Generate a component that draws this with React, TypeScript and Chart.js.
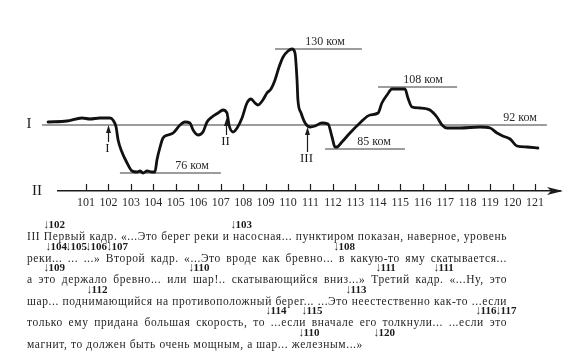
import { useEffect, useRef } from 'react';
import { Chart, registerables } from 'chart.js';

Chart.register(...registerables);

// ---- data ----
// x: frame numbers (scale II); y: pen deflection from the base level I (arbitrary units, up = higher resistance)
const TICKS = [101, 102, 103, 104, 105, 106, 107, 108, 109, 110, 111, 112, 113, 114, 115, 116, 117, 118, 119, 120, 121];

const CURVE_X = [
  99.31, 100.15, 100.82, 101.18, 101.62, 102.07, 102.2, 102.34, 102.43, 102.6, 102.83, 103.05, 103.27, 103.41, 103.54,
  103.72, 103.94, 104.07, 104.16, 104.3, 104.43, 104.65, 104.88, 105.19, 105.41, 105.63, 105.77, 105.99, 106.21, 106.39,
  106.61, 106.88, 107.1, 107.28, 107.37, 107.55, 107.73, 107.95, 108.17, 108.35, 108.53, 108.66, 108.88, 109.06, 109.24,
  109.42, 109.6, 109.78, 110.0, 110.18, 110.31, 110.4, 110.44, 110.58, 110.76, 110.98, 111.2, 111.51, 111.78, 111.96,
  112.09, 112.18, 112.4, 112.76, 113.2, 113.65, 114.01, 114.18, 114.41, 114.63, 114.9, 115.21, 115.34, 115.52, 115.88,
  116.32, 116.63, 116.86, 117.08, 117.66, 118.55, 119.0, 119.31, 119.57, 119.89, 120.2, 120.64, 121.13,
];
const CURVE_Y = [
  3, 4, 7, 6, 7, 7, 5, -2, -15, -27, -38, -46, -47, -46, -48,
  -46, -47, -47, -35, -22, -13, -10, -8, 0, 3, 2, -5, -10, -7, 3,
  8, 12, 15, 12, 0, -7, -3, 7, 22, 26, 22, 20, 25, 32, 36,
  45, 58, 68, 74, 76, 72, 45, 25, 12, 2, -2, -1, 2, 1, -12,
  -22, -22, -17, -8, 2, 10, 12, 22, 30, 36, 36, 36, 27, 18, 17,
  15, 8, 0, -3, -3, -2, -3, -8, -11, -14, -21, -22, -23,
];

// resistance levels
const LEVEL_LABELS = ['130 ком', '108 ком', '92 ком', '85 ком', '76 ком'];
const LEVEL_Y = [76, 38, 0, -24, -48];
const LEVEL_X0 = [109.42, 114.01, 99.04, 111.65, 102.51];
const LEVEL_X1 = [113.29, 117.53, 121.53, 115.21, 107.01];
const LEVEL_LABEL_X = [111.65, 116.01, 120.33, 113.83, 105.72];

// event arrows I, II, III
const EVENT_LABELS = ['I', 'II', 'III'];
const EVENT_X = [101.98, 107.24, 110.84];
const EVENT_TIP = [0, 7, -2];
const EVENT_TAIL = [-17, -10, -27];

const TEXT_LINES = [
  'III Первый кадр. «...Это берег реки и насосная... пунктиром показан, наверное, уровень',
  'реки... ... ...» Второй кадр. «...Это вроде как бревно... в какую-то яму скатывается...',
  'а это держало бревно... или шар!.. скатывающийся вниз...» Третий кадр. «...Ну, это',
  'шар... поднимающийся на противоположный берег... ...Это неестественно как-то ...если',
  'только ему придана большая скорость, то ...если вначале его толкнули... ...если это',
  'магнит, то должен быть очень мощным, а шар... железным...»',
];
const TEXT_MARKS = [
  ['102', '103'],
  ['104', '105', '106', '107', '108'],
  ['109', '110', '111', '111'],
  ['112', '113'],
  ['114', '115', '116', '117'],
  ['110', '120'],
];
// layout: left edge of each marker arrow
const MARK_LEFT = [
  [45, 232],
  [47, 67, 87, 108, 335],
  [45, 190, 377, 435],
  [88, 347],
  [267, 303, 477, 497],
  [300, 375],
];

const SERIF = '"Liberation Serif", "DejaVu Serif", serif';
const INK = '#1c1c1c';

const decoPlugin = {
  id: 'deco',
  afterDraw(chart: any) {
    const { ctx, chartArea } = chart;
    const x = chart.scales.x;
    const y = chart.scales.y;
    const yb = chartArea.bottom;
    ctx.save();
    // upward tick marks on axis II
    ctx.strokeStyle = INK;
    ctx.lineWidth = 1.2;
    TICKS.forEach((v) => {
      const px = Math.round(x.getPixelForValue(v)) + 0.5;
      ctx.beginPath();
      ctx.moveTo(px, yb);
      ctx.lineTo(px, yb - 7);
      ctx.stroke();
    });
    // arrowhead at the end of axis II
    ctx.fillStyle = INK;
    const r = chartArea.right;
    ctx.beginPath();
    ctx.moveTo(r + 3, yb);
    ctx.lineTo(r - 13, yb - 4);
    ctx.lineTo(r - 9, yb);
    ctx.lineTo(r - 13, yb + 4);
    ctx.closePath();
    ctx.fill();

    // side labels I and II
    ctx.font = `15px ${SERIF}`;
    ctx.textAlign = 'center';
    ctx.textBaseline = 'middle';
    ctx.fillText('I', 29, y.getPixelForValue(0) - 1);
    ctx.fillText('II', 37, yb);

    // level labels
    ctx.font = `12px ${SERIF}`;
    ctx.fillStyle = '#2a2a2a';
    LEVEL_LABELS.forEach((t, i) => {
      ctx.fillText(t, x.getPixelForValue(LEVEL_LABEL_X[i]), y.getPixelForValue(LEVEL_Y[i]) - 7);
    });

    // event arrows
    ctx.strokeStyle = INK;
    ctx.fillStyle = INK;
    ctx.lineWidth = 1.2;
    ctx.font = `13px ${SERIF}`;
    EVENT_LABELS.forEach((t, i) => {
      const px = Math.round(x.getPixelForValue(EVENT_X[i])) + 0.5;
      const top = y.getPixelForValue(EVENT_TIP[i]);
      const bot = y.getPixelForValue(EVENT_TAIL[i]);
      ctx.beginPath();
      ctx.moveTo(px, bot);
      ctx.lineTo(px, top + 5);
      ctx.stroke();
      ctx.beginPath();
      ctx.moveTo(px, top);
      ctx.lineTo(px - 2.5, top + 8);
      ctx.lineTo(px + 2.5, top + 8);
      ctx.closePath();
      ctx.fill();
      ctx.fillText(t, px - 1, bot + 7);
    });
    ctx.restore();
  },
};

export default function App() {
  const ref = useRef<HTMLCanvasElement>(null);

  useEffect(() => {
    if (!ref.current) return;
    const levelSets = LEVEL_LABELS.map((lab, i) => ({
      label: lab,
      data: [
        { x: LEVEL_X0[i], y: LEVEL_Y[i] },
        { x: LEVEL_X1[i], y: LEVEL_Y[i] },
      ],
      borderColor: '#3a3a3a',
      borderWidth: 1,
      pointRadius: 0,
      tension: 0,
      clip: false as any,
    }));
    const chart = new Chart(ref.current, {
      type: 'line',
      data: {
        datasets: [
          {
            label: 'curve',
            data: CURVE_X.map((v, i) => ({ x: v, y: CURVE_Y[i] })),
            borderColor: '#111',
            borderWidth: 2.8,
            pointRadius: 0,
            cubicInterpolationMode: 'monotone',
            borderCapStyle: 'round',
            borderJoinStyle: 'round',
            clip: false as any,
          },
          ...levelSets,
        ],
      },
      options: {
        responsive: false,
        animation: false,
        events: [],
        layout: { padding: { left: 58, right: 14, top: 0, bottom: 0 } },
        plugins: { legend: { display: false }, tooltip: { enabled: false } },
        scales: {
          x: {
            type: 'linear',
            min: 99.753,
            max: 122.114,
            afterBuildTicks: (s: any) => {
              s.ticks = TICKS.map((v) => ({ value: v }));
            },
            afterFit: (s: any) => {
              s.height = 358 - 191;
            },
            grid: { display: false, drawTicks: false },
            border: { display: true, color: INK, width: 1.5 },
            ticks: {
              padding: 5,
              color: '#2a2a2a',
              autoSkip: false,
              maxRotation: 0,
              font: { family: SERIF, size: 12 },
              callback: (v: any) => String(v),
            },
          },
          y: { display: false, min: -66, max: 125 },
        },
      },
      plugins: [decoPlugin],
    });
    return () => chart.destroy();
  }, []);

  const lineTop = (i: number) => 236 + 21.5 * i;

  return (
    <div style={{ position: 'absolute', left: 0, top: 0, width: 574, height: 358, background: '#fff', overflow: 'hidden' }}>
      <canvas ref={ref} width={574} height={358} style={{ position: 'absolute', left: 0, top: 0 }} />
      {TEXT_LINES.map((t, i) => (
        <div
          key={'l' + i}
          style={{
            position: 'absolute',
            left: 27,
            top: lineTop(i) - 7,
            width: 480,
            height: 14,
            lineHeight: '14px',
            fontFamily: SERIF,
            fontSize: 11.5,
            letterSpacing: '0.6px',
            color: '#262626',
            whiteSpace: 'nowrap',
            textAlign: 'justify',
            textAlignLast: i === TEXT_LINES.length - 1 ? 'left' : 'justify',
          }}
        >
          {t}
        </div>
      ))}
      {TEXT_MARKS.flatMap((row, i) =>
        row.map((m, j) => (
          <span
            key={'m' + i + '-' + j}
            style={{
              position: 'absolute',
              left: MARK_LEFT[i][j] - 2,
              top: lineTop(i) - 12 - 7,
              height: 14,
              lineHeight: '14px',
              fontFamily: SERIF,
              fontWeight: 'bold',
              fontSize: 11,
              color: '#1a1a1a',
              whiteSpace: 'nowrap',
            }}
          >
            <span style={{ fontSize: 13, display: 'inline-block', transform: 'scaleX(0.8)', marginRight: -1 }}>↓</span>
            {m}
          </span>
        ))
      )}
    </div>
  );
}
